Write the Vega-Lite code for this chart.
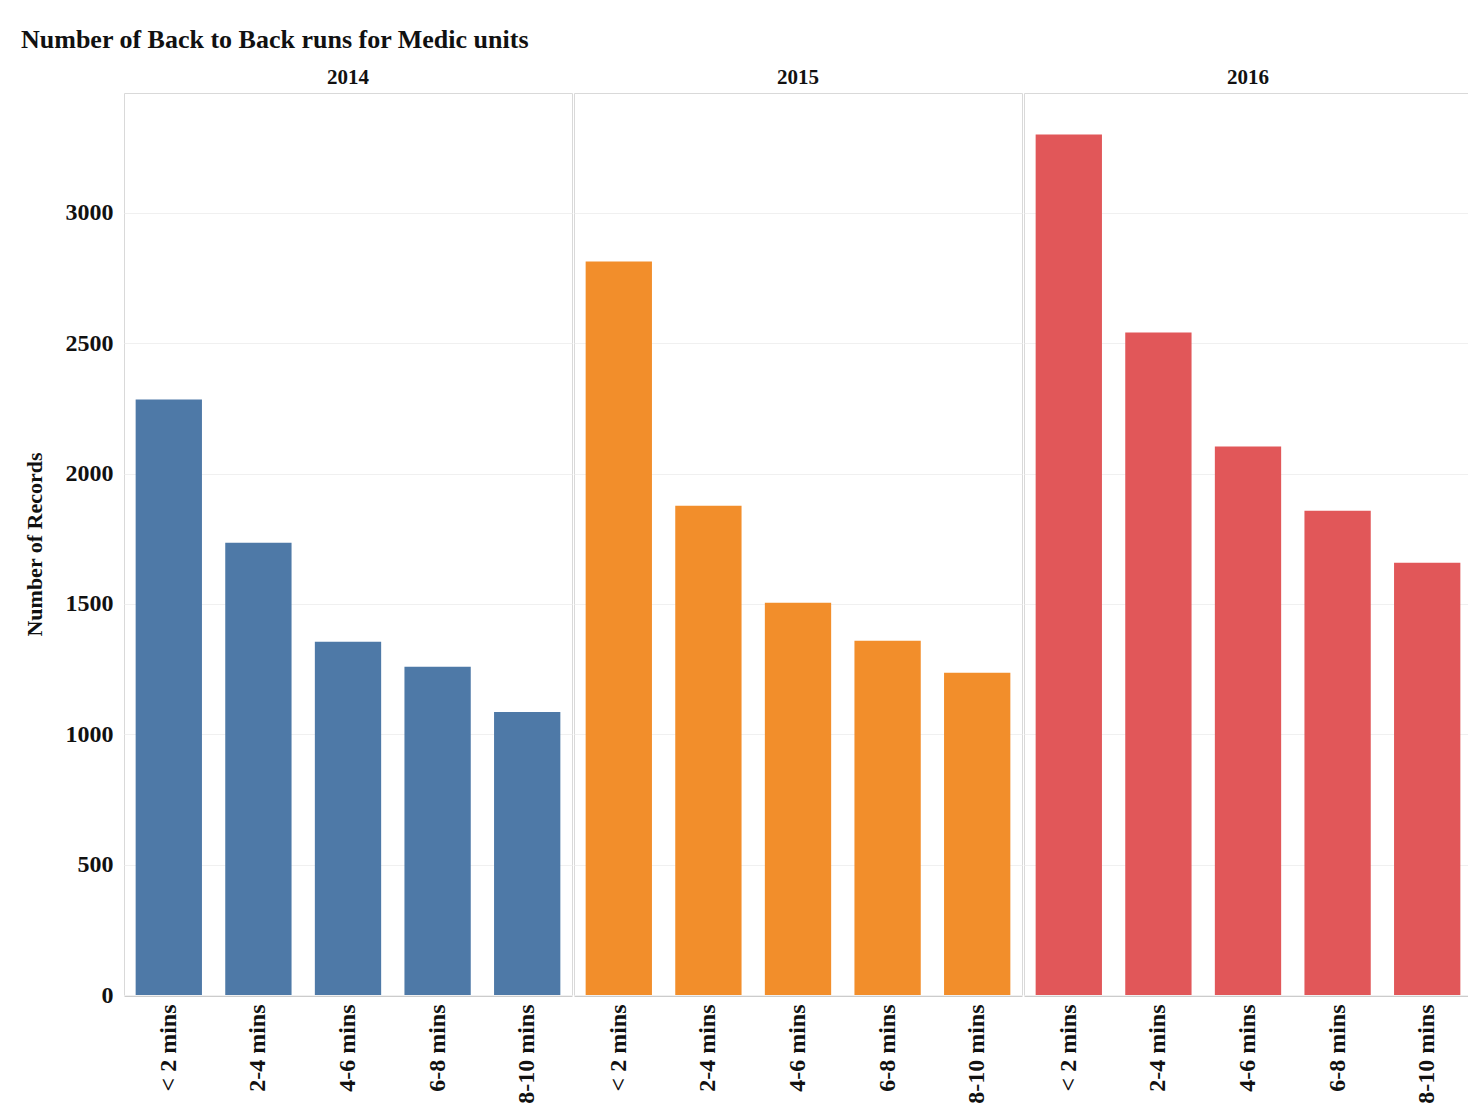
{
  "$schema": "https://vega.github.io/schema/vega-lite/v6.json",
  "background": "white",
  "padding": {"left": 21, "top": 27, "right": 0, "bottom": 0},
  "title": {"text": "Number of Back to Back runs for Medic units", "anchor": "start", "font": "Liberation Serif", "fontSize": 26, "fontWeight": "bold", "color": "#111111", "offset": 14, "dx": -2},
  "data": {"values": [
    {"Year": "2014", "Duration": "< 2 mins", "Records": 2284},
    {"Year": "2014", "Duration": "2-4 mins", "Records": 1735},
    {"Year": "2014", "Duration": "4-6 mins", "Records": 1355},
    {"Year": "2014", "Duration": "6-8 mins", "Records": 1259},
    {"Year": "2014", "Duration": "8-10 mins", "Records": 1086},
    {"Year": "2015", "Duration": "< 2 mins", "Records": 2814},
    {"Year": "2015", "Duration": "2-4 mins", "Records": 1877},
    {"Year": "2015", "Duration": "4-6 mins", "Records": 1505},
    {"Year": "2015", "Duration": "6-8 mins", "Records": 1359},
    {"Year": "2015", "Duration": "8-10 mins", "Records": 1236},
    {"Year": "2016", "Duration": "< 2 mins", "Records": 3301},
    {"Year": "2016", "Duration": "2-4 mins", "Records": 2541},
    {"Year": "2016", "Duration": "4-6 mins", "Records": 2104},
    {"Year": "2016", "Duration": "6-8 mins", "Records": 1858},
    {"Year": "2016", "Duration": "8-10 mins", "Records": 1658}
  ]},
  "facet": {
    "column": {
      "field": "Year", "type": "ordinal",
      "header": {"title": null, "labelFont": "Liberation Serif", "labelFontSize": 21, "labelFontWeight": "bold", "labelColor": "#111111", "labelPadding": 4}
    }
  },
  "spacing": 0,
  "spec": {
    "width": 448,
    "height": 902,
    "mark": {"type": "bar"},
    "encoding": {
      "x": {
        "field": "Duration", "type": "nominal",
        "sort": ["< 2 mins", "2-4 mins", "4-6 mins", "6-8 mins", "8-10 mins"],
        "scale": {"paddingInner": 0.26, "paddingOuter": 0.13},
        "axis": {"title": null, "labelAngle": -90, "labelFont": "Liberation Serif", "labelFontSize": 24, "labelFontWeight": "bold", "labelColor": "#111111", "labelPadding": 8, "ticks": false, "domainColor": "#cccccc"}
      },
      "y": {
        "field": "Records", "type": "quantitative",
        "scale": {"domain": [0, 3460], "nice": false},
        "axis": {"title": "Number of Records", "titleFont": "Liberation Serif", "titleFontSize": 22, "titleFontWeight": "bold", "titleColor": "#111111", "titlePadding": 19,
                 "values": [0, 500, 1000, 1500, 2000, 2500, 3000], "format": "d",
                 "labelFont": "Liberation Serif", "labelFontSize": 24, "labelFontWeight": "bold", "labelColor": "#111111", "labelPadding": 10,
                 "ticks": false, "domain": false, "gridColor": "#f0f0f0"}
      },
      "color": {
        "field": "Year", "type": "nominal",
        "scale": {"domain": ["2014", "2015", "2016"], "range": ["#4e79a7", "#f28e2b", "#e15759"]},
        "legend": null
      }
    }
  },
  "config": {
    "view": {"stroke": "#d9d9d9"}
  }
}
